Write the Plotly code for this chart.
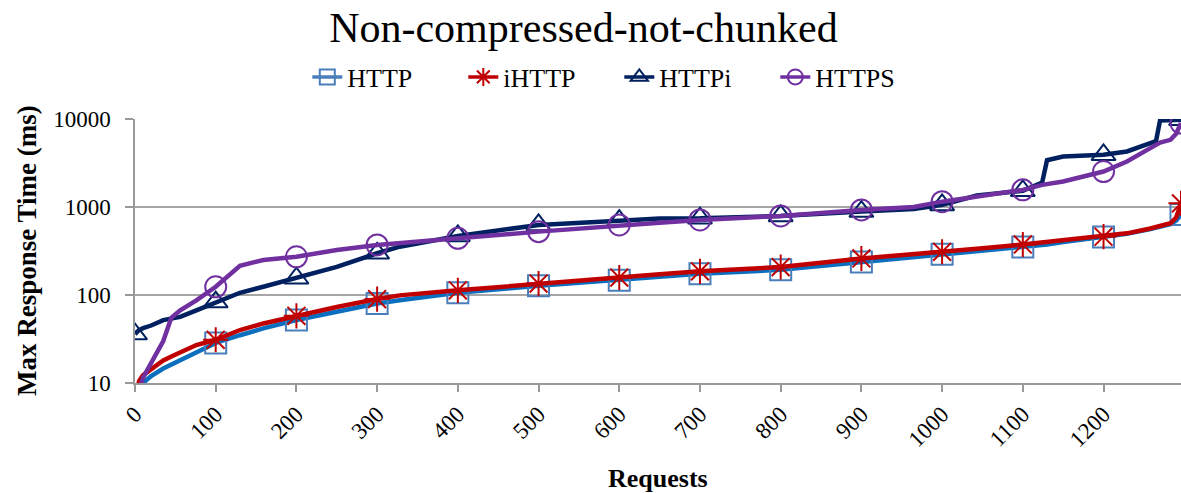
import plotly.graph_objects as go

# ---- data ----
requests = [0, 5, 10, 20, 35, 45, 56, 76, 100, 130, 159, 200, 250, 300, 328, 400,
            500, 600, 650, 700, 800, 900, 965, 1000, 1043, 1100, 1124, 1130, 1150,
            1200, 1229, 1258, 1265, 1270, 1283, 1290, 1296]

http = [5, 9, 10, 12, 14.6, 16.2, 18.1, 22.5, 28.5, 34.9, 41.7, 52, 64, 80, 87, 106,
        127, 147, 160, 174, 193, 237, 268, 290, 315, 350, 370, 375, 400,
        455, 495, 560, 585, 600, 640, 700, 820]

ihttp = [6, 10.5, 12.3, 14.2, 18, 20, 22.5, 27, 31, 40, 47.5, 58, 73, 90, 99, 113,
         135, 158, 172, 186, 208, 260, 290, 310, 335, 375, 395, 400, 420,
         460, 502, 570, 595, 610, 654, 760, 1100]

httpi = [36, 40, 42, 45, 51.8, 54, 56.4, 67, 83, 106, 124, 155, 209, 298, 354, 469,
         625, 700, 740, 745, 792, 887, 950, 1057, 1350, 1525, 1900, 3400, 3750,
         3920, 4275, 5330, 5600, 9600, 9700, 9700, 9800]

https = [3, 8, 11.5, 17, 30, 55, 67, 87, 124, 215, 250, 272, 325, 371, 387, 441,
         525, 625, 664, 713, 792, 927, 1000, 1150, 1313, 1566, 1786, 1820, 1950,
         2530, 3290, 4670, 5100, 5400, 5800, 6800, 9000]

series_names = ["HTTP", "iHTTP", "HTTPi", "HTTPS"]
x_ticks = list(range(0, 1300, 100))
y_ticks = [10, 100, 1000, 10000]

FONT = "Liberation Serif"

styles = {
    "HTTP":  dict(line="#0A6FBF", marker="#4A7EBB", symbol="square-open", legline="#4A7EBB"),
    "iHTTP": dict(line="#C00000", marker="#C00000", symbol="asterisk-open", legline="#C00000"),
    "HTTPi": dict(line="#002060", marker="#002060", symbol="triangle-up-open", legline="#002060"),
    "HTTPS": dict(line="#7030A0", marker="#7030A0", symbol="circle-open", legline="#7030A0"),
}
values = {"HTTP": http, "iHTTP": ihttp, "HTTPi": httpi, "HTTPS": https}

mark_idx = [i for i, r in enumerate(requests) if r % 100 == 0 or i == len(requests) - 1]

fig = go.Figure()
for name in series_names:
    st = styles[name]
    vals = values[name]
    fig.add_trace(go.Scatter(
        x=requests, y=vals, mode="lines", name=name, showlegend=False,
        line=dict(color=st["line"], width=4.5), hoverinfo="skip"))
    fig.add_trace(go.Scatter(
        x=[requests[i] for i in mark_idx], y=[vals[i] for i in mark_idx],
        mode="markers", name=name, showlegend=False,
        marker=dict(symbol=st["symbol"], size=21, color=st["marker"],
                    line=dict(color=st["marker"], width=2))))

# legend entries
for name in series_names:
    st = styles[name]
    fig.add_trace(go.Scatter(
        x=[None], y=[None], mode="lines+markers", name=name,
        line=dict(color=st["legline"], width=3.5),
        marker=dict(symbol=st["symbol"], size=15, color=st["marker"],
                    line=dict(color=st["marker"], width=2))))

fig.update_layout(
    width=1181, height=493,
    margin=dict(l=135, r=0, t=119, b=110),
    paper_bgcolor="white", plot_bgcolor="white",
    font=dict(family=FONT, color="black"),
    title=dict(text="Non-compressed-not-chunked", x=0.494, xref="container",
               xanchor="center", y=0.945, yref="container", yanchor="middle",
               font=dict(family=FONT, size=42, color="black")),
    legend=dict(orientation="h", x=0.463, xanchor="center", y=1.159,
                yanchor="middle", font=dict(family=FONT, size=26, color="black"),
                entrywidth=111, entrywidthmode="pixels",
                bgcolor="rgba(0,0,0,0)"),
    annotations=[
        dict(text="<b>Max Response Time (ms)</b>", textangle=-90,
             x=(27 - 135) / (1181 - 135), xref="paper", xanchor="center",
             y=0.5, yref="paper", showarrow=False,
             font=dict(family=FONT, size=27, color="black")),
        dict(text="<b>Requests</b>", x=0.5, xref="paper",
             y=-(478 - 383) / (383 - 119), yref="paper",
             showarrow=False, yanchor="middle",
             font=dict(family=FONT, size=26, color="black")),
    ],
)

fig.update_xaxes(
    range=[0, 1296], tickmode="array", tickvals=x_ticks,
    ticktext=[str(t) for t in x_ticks], tickangle=-45,
    ticks="outside", ticklen=7, tickcolor="#999999", tickwidth=1.5,
    showline=True, linecolor="#999999", linewidth=1.5,
    showgrid=False, zeroline=False, automargin=False,
    tickfont=dict(family=FONT, size=23, color="black"),
)

fig.update_yaxes(
    type="log", range=[1, 4], tickmode="array", tickvals=y_ticks,
    ticktext=[str(t) for t in y_ticks],
    ticks="outside", ticklen=8, tickcolor="#999999", tickwidth=1.5,
    ticklabelstandoff=10,
    showline=True, linecolor="#999999", linewidth=1.5,
    showgrid=True, gridcolor="#A6A6A6", gridwidth=1.5, zeroline=False,
    automargin=False,
    tickfont=dict(family=FONT, size=23, color="black"),
)

fig.write_html("out.html", config={"displayModeBar": False},
               post_script="document.body.style.margin='0';")
